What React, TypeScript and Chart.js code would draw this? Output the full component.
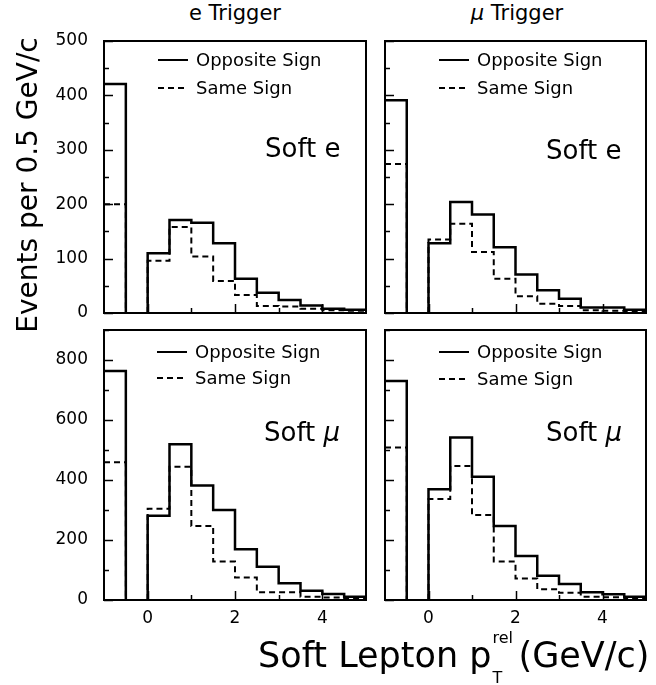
import React, { useEffect, useRef } from "react";
import { Chart, registerables } from "chart.js";

Chart.register(...registerables);

// Bin starts (GeV/c); first bin is the separate -1 .. -0.5 bin
const binStarts = [-1, 0, 0.5, 1, 1.5, 2, 2.5, 3, 3.5, 4, 4.5];
const binWidth = 0.5;

// e Trigger, Soft e
const eTrigSoftE_Opposite = [421, 110, 171, 166, 128, 63, 37, 24, 14, 8, 6];
const eTrigSoftE_Same = [200, 96, 158, 104, 59, 33, 13, 12, 8, 5, 4];
// mu Trigger, Soft e
const muTrigSoftE_Opposite = [391, 128, 204, 181, 121, 71, 42, 26, 10, 10, 6];
const muTrigSoftE_Same = [274, 135, 164, 112, 63, 31, 17, 13, 5, 4, 3];
// e Trigger, Soft mu
const eTrigSoftMu_Opposite = [763, 281, 519, 382, 300, 169, 111, 56, 31, 20, 11];
const eTrigSoftMu_Same = [459, 304, 444, 247, 128, 75, 26, 26, 11, 8, 6];
// mu Trigger, Soft mu
const muTrigSoftMu_Opposite = [730, 369, 542, 411, 247, 147, 81, 53, 26, 19, 11];
const muTrigSoftMu_Same = [508, 337, 447, 283, 128, 72, 36, 24, 11, 9, 6];

const yTickLabelsTop = [0, 100, 200, 300, 400, 500];
const yTickLabelsBottom = [0, 200, 400, 600, 800];
const xTickLabels = [0, 2, 4];
const xTickMarks = [0, 1, 2, 3, 4];

const columnTitles = ["e Trigger", "\u03bc Trigger"];
const legendLabels = ["Opposite Sign", "Same Sign"];
const yTitle = "Events per 0.5 GeV/c";

const FONT = "'DejaVu Sans', 'Liberation Sans', sans-serif";

function histPoints(values: number[]) {
  const pts: { x: number; y: number | null }[] = [];
  pts.push({ x: binStarts[0], y: values[0] });
  pts.push({ x: binStarts[0] + binWidth, y: 0 });
  pts.push({ x: (binStarts[0] + binWidth + binStarts[1]) / 2, y: null });
  pts.push({ x: binStarts[1], y: 0 });
  for (let i = 1; i < values.length; i++) pts.push({ x: binStarts[i], y: values[i] });
  pts.push({ x: binStarts[values.length - 1] + binWidth, y: values[values.length - 1] });
  return pts;
}

const frameTicksPlugin = {
  id: "frameTicks",
  afterDatasetsDraw(chart: any, _args: any, opts: any) {
    const { ctx, chartArea: a, scales } = chart;
    ctx.save();
    ctx.strokeStyle = "#000";
    ctx.lineWidth = 1.5;
    const ys = scales.y;
    for (let v = 0; v <= opts.yMax + 1e-6; v += opts.yMinor) {
      const py = Math.round(ys.getPixelForValue(v)) + 0.5;
      const len = v % opts.yMajor === 0 ? 9 : 5;
      ctx.beginPath();
      ctx.moveTo(a.left, py);
      ctx.lineTo(a.left + len, py);
      ctx.stroke();
    }
    const xs = scales.x;
    for (const v of xTickMarks) {
      const px = Math.round(xs.getPixelForValue(v)) + 0.5;
      const len = v % 2 === 0 ? 9 : 5;
      ctx.beginPath();
      ctx.moveTo(px, a.bottom);
      ctx.lineTo(px, a.bottom - len);
      ctx.stroke();
    }
    ctx.lineWidth = 2;
    ctx.strokeRect(a.left, a.top, a.right - a.left, a.bottom - a.top);
    ctx.restore();
  },
};

type Area = { l: number; t: number; r: number; b: number };

function Panel(props: {
  area: Area;
  opposite: number[];
  same: number[];
  yMax: number;
  yLabels: number[];
  yMinor: number;
  yMajor: number;
  showY: boolean;
  showX: boolean;
}) {
  const ref = useRef<HTMLCanvasElement | null>(null);
  const { area, showX, showY } = props;
  const cLeft = showY ? 40 : area.l - 8;
  const cTop = area.t - 15;
  const cRight = area.r + 10;
  const cBottom = showX ? area.b + 35 : area.b + 13;
  const width = cRight - cLeft;
  const height = cBottom - cTop;
  const yAxisW = area.l - cLeft;

  useEffect(() => {
    if (!ref.current) return;
    const chart = new Chart(ref.current, {
      type: "line",
      data: {
        datasets: [
          {
            label: legendLabels[1],
            data: histPoints(props.same) as any,
            borderColor: "#000",
            borderWidth: 2,
            borderDash: [6, 4],
            pointRadius: 0,
            stepped: "before",
            spanGaps: false,
            fill: false,
          },
          {
            label: legendLabels[0],
            data: histPoints(props.opposite) as any,
            borderColor: "#000",
            borderWidth: 2.5,
            pointRadius: 0,
            stepped: "before",
            spanGaps: false,
            fill: false,
          },
        ],
      },
      options: {
        animation: false,
        responsive: false,
        devicePixelRatio: 1,
        events: [],
        layout: {
          autoPadding: false,
          padding: { left: 0, top: 15, right: 10, bottom: showX ? 0 : 13 },
        },
        plugins: {
          legend: { display: false },
          tooltip: { enabled: false },
          frameTicks: { yMax: props.yMax, yMinor: props.yMinor, yMajor: props.yMajor },
        } as any,
        scales: {
          x: {
            type: "linear",
            min: -1,
            max: 5,
            grid: { display: false, drawTicks: false },
            border: { display: false },
            ticks: {
              display: showX,
              padding: 8,
              color: "#000",
              font: { family: FONT, size: 17 },
              callback: (v: any) => String(v),
            },
            afterBuildTicks: (s: any) => {
              s.ticks = xTickLabels.map((v) => ({ value: v }));
            },
            afterFit: (s: any) => {
              s.height = showX ? 35 : 0;
              s.paddingLeft = 0;
              s.paddingRight = 0;
            },
          },
          y: {
            type: "linear",
            min: 0,
            max: props.yMax,
            grid: { display: false, drawTicks: false },
            border: { display: false },
            ticks: {
              display: showY,
              padding: 16,
              color: "#000",
              font: { family: FONT, size: 17 },
            },
            afterBuildTicks: (s: any) => {
              s.ticks = props.yLabels.map((v) => ({ value: v }));
            },
            afterFit: (s: any) => {
              s.width = yAxisW;
              s.paddingTop = 0;
              s.paddingBottom = 0;
            },
          },
        },
      },
      plugins: [frameTicksPlugin],
    } as any);
    return () => chart.destroy();
  }, []);

  return (
    <canvas
      ref={ref}
      width={width}
      height={height}
      style={{ position: "absolute", left: cLeft, top: cTop, width, height }}
    />
  );
}

function LegendRow(props: { x: number; y: number; textX: number; label: string; dashed: boolean }) {
  return (
    <>
      <svg
        width={32}
        height={6}
        style={{ position: "absolute", left: props.x, top: props.y - 3 }}
      >
        <line
          x1={0}
          y1={3}
          x2={30}
          y2={3}
          stroke="#000"
          strokeWidth={2}
          strokeDasharray={props.dashed ? "6 4" : undefined}
        />
      </svg>
      <div
        style={{
          position: "absolute",
          left: props.textX,
          top: props.y - 11,
          fontSize: 18,
          lineHeight: "22px",
          whiteSpace: "nowrap",
        }}
      >
        {props.label}
      </div>
    </>
  );
}

function TextAt(props: { x: number; cy: number; size: number; children: any }) {
  const lh = Math.round(props.size * 1.2);
  return (
    <div
      style={{
        position: "absolute",
        left: props.x,
        top: props.cy - lh / 2,
        fontSize: props.size,
        lineHeight: lh + "px",
        whiteSpace: "nowrap",
      }}
    >
      {props.children}
    </div>
  );
}

export default function App() {
  const TL = { l: 104, t: 41, r: 366, b: 313 };
  const TR = { l: 385, t: 41, r: 646, b: 313 };
  const BL = { l: 104, t: 330, r: 366, b: 600 };
  const BR = { l: 385, t: 330, r: 646, b: 600 };
  return (
    <div
      style={{
        position: "fixed",
        left: 0,
        top: 0,
        width: 656,
        height: 685,
        background: "#fff",
        fontFamily: FONT,
        color: "#000",
        overflow: "hidden",
      }}
    >
      <Panel area={TL} opposite={eTrigSoftE_Opposite} same={eTrigSoftE_Same} yMax={500} yLabels={yTickLabelsTop} yMinor={50} yMajor={100} showY={true} showX={false} />
      <Panel area={TR} opposite={muTrigSoftE_Opposite} same={muTrigSoftE_Same} yMax={500} yLabels={yTickLabelsTop} yMinor={50} yMajor={100} showY={false} showX={false} />
      <Panel area={BL} opposite={eTrigSoftMu_Opposite} same={eTrigSoftMu_Same} yMax={900} yLabels={yTickLabelsBottom} yMinor={100} yMajor={200} showY={true} showX={true} />
      <Panel area={BR} opposite={muTrigSoftMu_Opposite} same={muTrigSoftMu_Same} yMax={900} yLabels={yTickLabelsBottom} yMinor={100} yMajor={200} showY={false} showX={true} />

      {/* column titles */}
      <div style={{ position: "absolute", left: 135, width: 200, top: 1, textAlign: "center", fontSize: 21, lineHeight: "24px" }}>
        {columnTitles[0]}
      </div>
      <div style={{ position: "absolute", left: 417, width: 200, top: 1, textAlign: "center", fontSize: 21, lineHeight: "24px" }}>
        <span style={{ fontStyle: "italic" }}>{"\u03bc"}</span>
        {columnTitles[1].slice(1)}
      </div>

      {/* legends */}
      <LegendRow x={158} y={60} textX={196} label={legendLabels[0]} dashed={false} />
      <LegendRow x={158} y={88} textX={196} label={legendLabels[1]} dashed={true} />
      <LegendRow x={439} y={60} textX={477} label={legendLabels[0]} dashed={false} />
      <LegendRow x={439} y={88} textX={477} label={legendLabels[1]} dashed={true} />
      <LegendRow x={157} y={352} textX={195} label={legendLabels[0]} dashed={false} />
      <LegendRow x={157} y={378} textX={195} label={legendLabels[1]} dashed={true} />
      <LegendRow x={439} y={352} textX={477} label={legendLabels[0]} dashed={false} />
      <LegendRow x={439} y={379} textX={477} label={legendLabels[1]} dashed={true} />

      {/* panel labels */}
      <TextAt x={265} cy={148} size={26}>Soft e</TextAt>
      <TextAt x={546} cy={150} size={26}>Soft e</TextAt>
      <TextAt x={264} cy={432} size={26}>
        Soft <span style={{ fontStyle: "italic" }}>{"\u03bc"}</span>
      </TextAt>
      <TextAt x={546} cy={432} size={26}>
        Soft <span style={{ fontStyle: "italic" }}>{"\u03bc"}</span>
      </TextAt>

      {/* y axis title */}
      <div
        style={{
          position: "absolute",
          left: 28 - 200,
          top: 185 - 18,
          width: 400,
          height: 36,
          lineHeight: "36px",
          fontSize: 28,
          textAlign: "center",
          transform: "rotate(-90deg)",
          transformOrigin: "center center",
          whiteSpace: "nowrap",
        }}
      >
        {yTitle}
      </div>

      {/* x axis title */}
      <div
        style={{
          position: "absolute",
          left: 258,
          top: 635,
          fontSize: 35,
          lineHeight: "40px",
          whiteSpace: "nowrap",
        }}
      >
        Soft Lepton p
        <span style={{ position: "relative", display: "inline-block", width: 27, height: 0 }}>
          <span style={{ position: "absolute", left: 1, top: -37, fontSize: 16, lineHeight: "16px" }}>rel</span>
          <span style={{ position: "absolute", left: 1, top: 3, fontSize: 16, lineHeight: "16px" }}>T</span>
        </span>
        (GeV/c)
      </div>
    </div>
  );
}
